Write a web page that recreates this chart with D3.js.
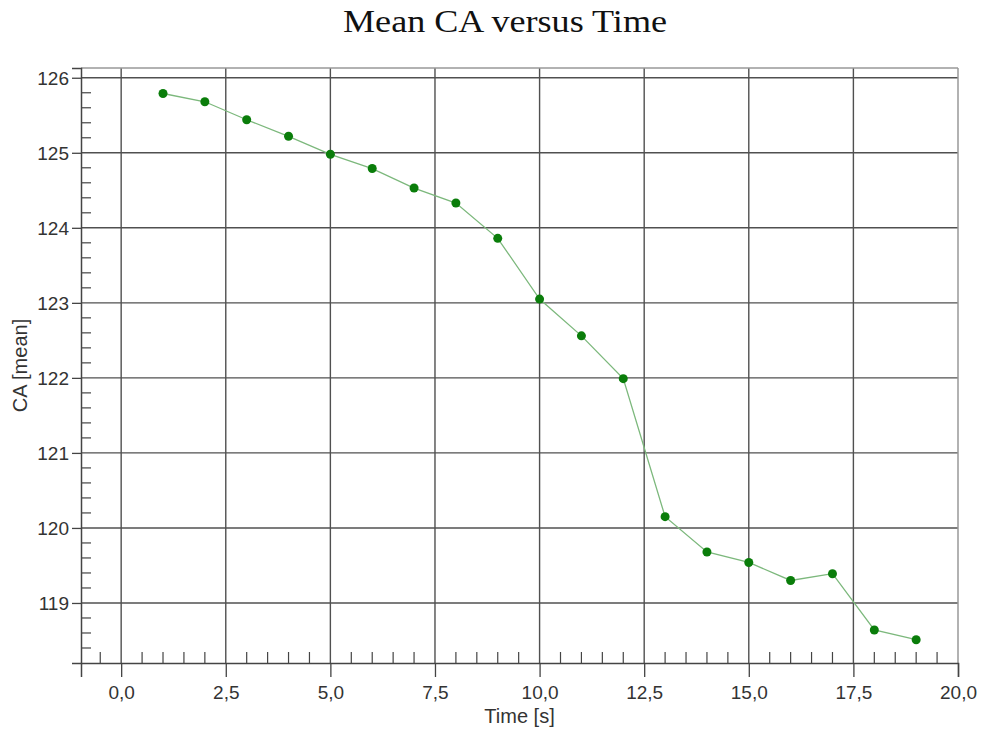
<!DOCTYPE html>
<html>
<head>
<meta charset="utf-8">
<script src="https://cdn.jsdelivr.net/npm/d3@7"></script>
<style>
  body { margin:0; background:#fff; }
  svg { display:block; }
  .tick text { font-family: "Liberation Sans", Arial, sans-serif; fill:#333; }
</style>
</head>
<body>
<svg id="chart" width="982" height="729"></svg>
<script>
// values
var time = [1, 2, 3, 4, 5, 6, 7, 8, 9, 10, 11, 12, 13, 14, 15, 16, 17, 18, 19];
var caMean = [125.79, 125.68, 125.44, 125.22, 124.98, 124.79, 124.53, 124.33, 123.86, 123.05,
              122.56, 121.99, 120.15, 119.68, 119.54, 119.30, 119.39, 118.64, 118.51];
var xMajor = [0, 2.5, 5, 7.5, 10, 12.5, 15, 17.5, 20];
var xMinor = [-0.5, 0.5, 1, 1.5, 2, 3, 3.5, 4, 4.5, 5.5, 6, 6.5, 7, 8, 8.5, 9, 9.5,
              10.5, 11, 11.5, 12, 13, 13.5, 14, 14.5, 15.5, 16, 16.5, 17, 18, 18.5, 19, 19.5];
var yMajor = [119, 120, 121, 122, 123, 124, 125, 126];
var yMinor = [118.4, 118.6, 118.8, 119.2, 119.4, 119.6, 119.8, 120.2, 120.4, 120.6, 120.8,
              121.2, 121.4, 121.6, 121.8, 122.2, 122.4, 122.6, 122.8, 123.2, 123.4, 123.6, 123.8,
              124.2, 124.4, 124.6, 124.8, 125.2, 125.4, 125.6, 125.8];

var margin = {top:68, left:81, right:24, bottom:66},
    width = 982 - margin.left - margin.right,
    height = 729 - margin.top - margin.bottom;

var svg = d3.select('#chart');
var g = svg.append('g').attr('transform', 'translate(' + margin.left + ',' + margin.top + ')');

var x = d3.scaleLinear().domain([-0.96, 20]).range([0, width]);
var y = d3.scaleLinear().domain([118.2, 126.13]).range([height, 0]);

var fmt = function(d) { return d3.format('.1f')(d).replace('.', ','); };

// title
svg.append('text')
  .attr('x', 505).attr('y', 32)
  .attr('text-anchor', 'middle')
  .attr('font-family', '"Liberation Serif", "Times New Roman", serif')
  .attr('font-size', 31)
  .attr('textLength', 324).attr('lengthAdjust', 'spacingAndGlyphs')
  .attr('fill', '#111')
  .text('Mean CA versus Time');

// grid
g.selectAll('.vgrid').data(xMajor.filter(function(d){ return d < 20; }))
  .enter().append('line')
  .attr('x1', function(d){ return x(d); }).attr('x2', function(d){ return x(d); })
  .attr('y1', 0).attr('y2', height)
  .attr('stroke', '#505050').attr('stroke-width', 1.4);

g.selectAll('.hgrid').data(yMajor)
  .enter().append('line')
  .attr('x1', 0).attr('x2', width)
  .attr('y1', function(d){ return y(d); }).attr('y2', function(d){ return y(d); })
  .attr('stroke', '#505050').attr('stroke-width', 1.4);

// frame top/right
g.append('line').attr('x1', 0).attr('x2', width).attr('y1', 0).attr('y2', 0)
  .attr('stroke', '#999').attr('stroke-width', 1.5);
g.append('line').attr('x1', width).attr('x2', width).attr('y1', 0).attr('y2', height)
  .attr('stroke', '#999').attr('stroke-width', 1.5);

// minor ticks (inside)
g.selectAll('.xminor').data(xMinor)
  .enter().append('line')
  .attr('x1', function(d){ return x(d); }).attr('x2', function(d){ return x(d); })
  .attr('y1', height).attr('y2', height - 11)
  .attr('stroke', '#444').attr('stroke-width', 1.2);

g.selectAll('.yminor').data(yMinor)
  .enter().append('line')
  .attr('x1', 0).attr('x2', 10)
  .attr('y1', function(d){ return y(d); }).attr('y2', function(d){ return y(d); })
  .attr('stroke', '#444').attr('stroke-width', 1.2);

// axes
var xAxis = g.append('g')
  .attr('transform', 'translate(0,' + height + ')')
  .call(d3.axisBottom(x).tickValues(xMajor).tickSize(14).tickPadding(9).tickFormat(fmt));
xAxis.selectAll('text').attr('font-size', 19);

var yAxis = g.append('g')
  .call(d3.axisLeft(y).tickValues(yMajor).tickSize(9).tickPadding(3).tickFormat(d3.format('d')));
yAxis.selectAll('text').attr('font-size', 19).attr('dy', '0.35em');

g.selectAll('.domain').attr('stroke', '#444').attr('stroke-width', 1.5);
g.selectAll('.tick line').attr('stroke', '#444').attr('stroke-width', 1.3);

// axis labels
svg.append('text')
  .attr('x', margin.left + width / 2).attr('y', 723)
  .attr('text-anchor', 'middle')
  .attr('font-family', '"Liberation Sans", Arial, sans-serif')
  .attr('font-size', 20).attr('fill', '#333')
  .text('Time [s]');

svg.append('text')
  .attr('transform', 'translate(27,' + (margin.top + height / 2) + ') rotate(-90)')
  .attr('text-anchor', 'middle')
  .attr('font-family', '"Liberation Sans", Arial, sans-serif')
  .attr('font-size', 20).attr('fill', '#333')
  .text('CA [mean]');

// series
var line = d3.line()
  .x(function(d, i){ return x(time[i]); })
  .y(function(d){ return y(d); });

g.append('path')
  .datum(caMean)
  .attr('d', line)
  .attr('fill', 'none')
  .attr('stroke', '#7cb87c')
  .attr('stroke-width', 1.3);

g.selectAll('.pt').data(caMean)
  .enter().append('circle')
  .attr('cx', function(d, i){ return x(time[i]); })
  .attr('cy', function(d){ return y(d); })
  .attr('r', 4.5)
  .attr('fill', '#0a7d0a');
</script>
</body>
</html>
